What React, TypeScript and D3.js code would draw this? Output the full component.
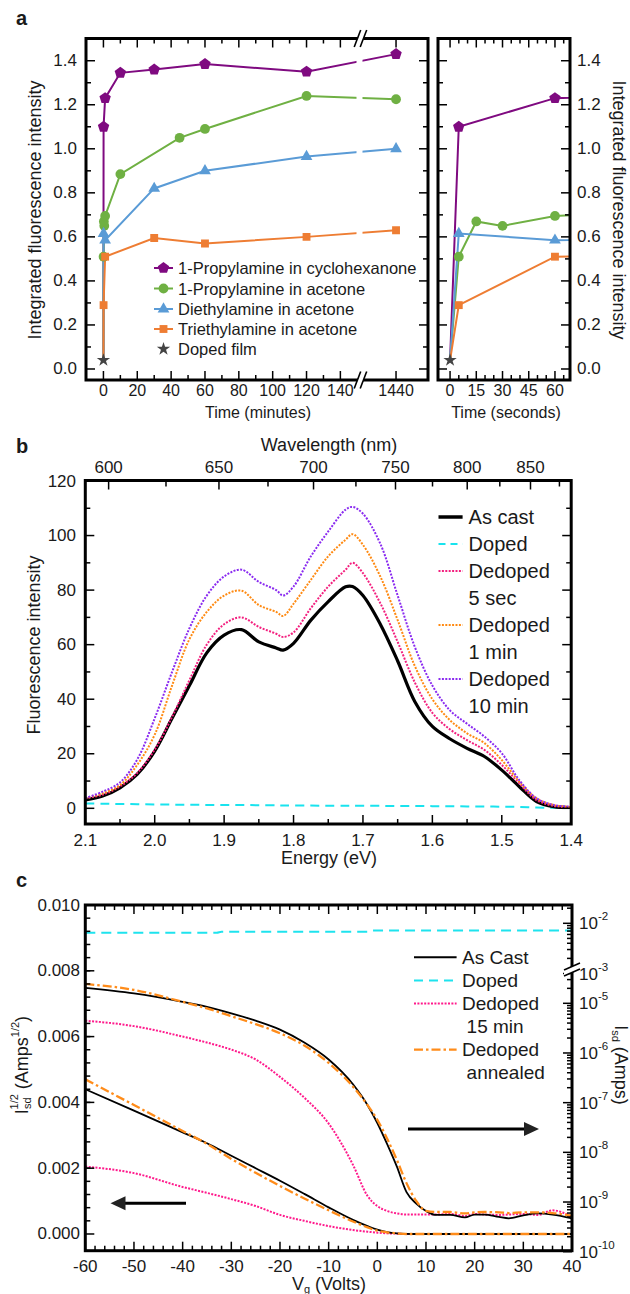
import { useEffect, useRef } from "react";
import * as d3 from "d3";

const FONT = "'Liberation Sans', Arial, Helvetica, sans-serif";

// ---------- panel a : integrated fluorescence vs. dedoping time ----------
const timeMinutes = [0, 0.083, 0.25, 0.5, 1, 10, 30, 45, 60, 120, 1440];
const propylCyclohexanone = [0.04, 1.1, null, null, 1.23, 1.345, 1.36, null, 1.385, 1.35, 1.43];
const propylAcetone = [0.04, 0.51, 0.67, 0.65, 0.695, 0.885, null, 1.05, 1.09, 1.24, 1.225];
const diethylAcetone = [0.04, 0.615, null, null, 0.585, null, 0.82, null, 0.9, 0.965, 1.0];
const triethylAcetone = [0.04, 0.29, null, null, 0.51, null, 0.595, null, 0.57, 0.6, 0.63];
const dopedFilm = 0.04;
const minuteTicks = [0, 20, 40, 60, 80, 100, 120, 140];
const secondTicks = [0, 15, 30, 45, 60];
const intensityTicks = [0, 0.2, 0.4, 0.6, 0.8, 1.0, 1.2, 1.4];

// ---------- panel b : fluorescence spectra ----------
const energyEv = [2.1, 2.075, 2.05, 2.025, 2.0, 1.975, 1.95, 1.925, 1.9, 1.875, 1.85, 1.825, 1.815, 1.8, 1.775, 1.75, 1.725, 1.715, 1.7, 1.675, 1.65, 1.625, 1.6, 1.575, 1.55, 1.525, 1.5, 1.475, 1.45, 1.425, 1.4];
const specAsCast = [3.1, 4.5, 7.5, 12.5, 21, 33, 45, 57, 63.5, 65.5, 61, 58.8, 58, 60.5, 69, 75.8, 81.2, 81.3, 78, 67.5, 54, 39, 30, 25.5, 22, 19, 14, 8, 2.5, 0.6, 0.3];
const specDoped = [1.8, 1.7, 1.6, 1.5, 1.4, 1.35, 1.3, 1.25, 1.2, 1.2, 1.15, 1.1, 1.05, 1.0, 1.0, 0.95, 0.95, 0.95, 0.9, 0.9, 0.85, 0.85, 0.8, 0.75, 0.7, 0.65, 0.6, 0.5, 0.3, 0.2, 0.2];
const specDedoped5s = [3.7, 5, 8, 13, 21.5, 33.5, 47, 60, 67.5, 70, 66.5, 64, 62.8, 64.5, 73.4, 81.3, 87.5, 90, 86.2, 75.2, 61, 46, 35, 29, 25, 21.4, 15.9, 9.2, 3, 0.9, 0.5];
const specDedoped1m = [3.7, 5.5, 8.5, 16, 27, 45, 62, 72, 78, 79.8, 74.5, 72, 70.5, 75, 83.8, 92.4, 98.5, 100.5, 96.6, 85, 69, 52, 40, 32.4, 27.5, 23.9, 17.7, 9.8, 3.7, 1.2, 0.5];
const specDedoped10m = [3.7, 6.1, 9.5, 18, 33, 50, 66, 78, 85, 87.5, 83, 80, 78, 81.3, 92.4, 101.5, 109.5, 110.5, 108, 97, 78, 59, 45, 36, 31, 26.3, 20.2, 10.4, 3.7, 1.2, 0.6];
const energyTicks = [2.1, 2.0, 1.9, 1.8, 1.7, 1.6, 1.5, 1.4];
const wavelengthTicks = [600, 650, 700, 750, 800, 850];
const fluorTicks = [0, 20, 40, 60, 80, 100, 120];

// ---------- panel c : transistor curves ----------
const gateVolts = [-60, -50, -40, -35, -30, -25, -20, -15, -10, -5, -2, 0, 2, 4, 6, 8, 10, 12, 15, 18, 20, 22, 25, 27, 30, 33, 36, 40];
// log-axis (right) currents, Amps
const isdAsCast = [2.04e-5, 1.58e-5, 1.07e-5, 8.5e-6, 6.3e-6, 4.47e-6, 2.95e-6, 1.62e-6, 7.4e-7, 2.34e-7, 8.9e-8, 3.9e-8, 1.48e-8, 5.2e-9, 1.58e-9, 9.3e-10, 6.6e-10, 5.5e-10, 5.5e-10, 4.9e-10, 5.6e-10, 5.6e-10, 5.0e-10, 4.7e-10, 5.4e-10, 5.9e-10, 5.6e-10, 4.7e-10];
const isdAnnealed = [2.45e-5, 1.86e-5, 1.07e-5, 7.9e-6, 5.5e-6, 3.8e-6, 2.5e-6, 1.41e-6, 6.3e-7, 2.1e-7, 8.9e-8, 4.5e-8, 1.9e-8, 7.1e-9, 2.4e-9, 1.05e-9, 6.6e-10, 6.3e-10, 6.3e-10, 5.9e-10, 6.2e-10, 6.3e-10, 6.2e-10, 6.0e-10, 6.2e-10, 6.2e-10, 6.0e-10, 5.25e-10];
const isdDedoped15 = [4.47e-6, 3.47e-6, 2.14e-6, 1.62e-6, 1.17e-6, 7.4e-7, 3.3e-7, 1.26e-7, 3.8e-8, 5.6e-9, 1.32e-9, 8.3e-10, 6.6e-10, 5.9e-10, 5.6e-10, 5.6e-10, 5.6e-10, 5.6e-10, 5.75e-10, 5.25e-10, 5.75e-10, 5.6e-10, 5.5e-10, 5.6e-10, 5.75e-10, 5.5e-10, 6.8e-10, 5.0e-10];
// sqrt-axis (left) values, Amps^1/2
const sqrtAsCast = [0.0044, 0.00375, 0.00309, 0.00276, 0.00238, 0.002, 0.00162, 0.00122, 0.00081, 0.00043, 0.00024, 0.00013, 0.00006, 0.00002, 0.000005, 0, 0, 0, 0, 0, 0, 0, 0, 0, 0, 0, 0, 0];
const sqrtAnnealed = [0.0047, 0.00392, 0.00313, 0.00274, 0.00228, 0.00186, 0.00146, 0.00108, 0.00072, 0.00038, 0.0002, 0.0001, 0.00005, 0.00002, 0, 0, 0, 0, 0, 0, 0, 0, 0, 0, 0, 0, 0, 0];
const sqrtDedoped15 = [0.00205, 0.00185, 0.00143, 0.00125, 0.00106, 0.00085, 0.00058, 0.0004, 0.00024, 0.00012, 0.00007, 0.00004, 0.00002, 0.00001, 0, 0, 0, 0, 0, 0, 0, 0, 0, 0, 0, 0, 0, 0];
const dopedVolts = [-60, -33, -32, -2, -1, 40];
const isdDoped = [6.5e-3, 6.5e-3, 6.8e-3, 6.8e-3, 7.2e-3, 7.2e-3];
const voltTicks = [-60, -50, -40, -30, -20, -10, 0, 10, 20, 30, 40];
const sqrtTicks = [0, 0.002, 0.004, 0.006, 0.008, 0.01];
const logTicksLo = [-10, -9, -8, -7, -6, -5];
const logTicksHi = [-3, -2];

type G = d3.Selection<SVGGElement, unknown, null, undefined>;

function seg(g: G, x1: number, y1: number, x2: number, y2: number, w = 1.5) {
  g.append("line").attr("x1", x1).attr("y1", y1).attr("x2", x2).attr("y2", y2)
    .attr("stroke", "#000").attr("stroke-width", w);
}

function label(g: G, x: number, y: number, s: string, size: number, anchor = "middle") {
  return g.append("text").attr("x", x).attr("y", y).attr("font-size", size)
    .attr("text-anchor", anchor).attr("dominant-baseline", "central")
    .attr("font-family", FONT).attr("fill", "#1a1a1a").text(s);
}

function frame(g: G, x0: number, y0: number, x1: number, y1: number) {
  g.append("rect").attr("x", x0).attr("y", y0).attr("width", x1 - x0).attr("height", y1 - y0)
    .attr("fill", "none").attr("stroke", "#000").attr("stroke-width", 3);
}

function xTicks(g: G, xs: number[], yTop: number | null, yBot: number | null, len: number) {
  xs.forEach((x) => {
    if (yTop !== null) seg(g, x, yTop, x, yTop + len);
    if (yBot !== null) seg(g, x, yBot, x, yBot - len);
  });
}

function yTicks(g: G, ys: number[], xL: number | null, xR: number | null, len: number) {
  ys.forEach((y) => {
    if (xL !== null) seg(g, xL, y, xL + len, y);
    if (xR !== null) seg(g, xR, y, xR - len, y);
  });
}

function breakMark(g: G, cx: number, cy: number, horizontal: boolean) {
  // two parallel slashes with white between them
  if (!horizontal) {
    g.append("polygon").attr("points", `${cx - 7},${cy + 8} ${cx - 1},${cy - 8} ${cx + 5},${cy - 8} ${cx - 1},${cy + 8}`).attr("fill", "#fff");
    seg(g, cx - 7.5, cy + 8.5, cx - 1, cy - 8.5, 1.6);
    seg(g, cx - 1.5, cy + 8.5, cx + 5, cy - 8.5, 1.6);
  } else {
    g.append("polygon").attr("points", `${cx - 8},${cy + 1} ${cx + 8},${cy - 6} ${cx + 8},${cy} ${cx - 8},${cy + 7}`).attr("fill", "#fff");
    seg(g, cx - 8, cy + 1, cx + 8, cy - 6, 1.6);
    seg(g, cx - 8, cy + 7, cx + 8, cy, 1.6);
  }
}

function pentagonPath(r: number) {
  const pts = d3.range(5).map((i) => {
    const a = -Math.PI / 2 + (i * 2 * Math.PI) / 5;
    return [r * Math.cos(a), r * Math.sin(a)];
  });
  return "M" + pts.map((p) => p.join(",")).join("L") + "Z";
}

function markerPath(shape: string) {
  if (shape === "pentagon") return pentagonPath(6);
  if (shape === "circle") return d3.symbol().type(d3.symbolCircle).size(75)()!;
  if (shape === "triangle") return d3.symbol().type(d3.symbolTriangle).size(60)()!;
  if (shape === "square") return d3.symbol().type(d3.symbolSquare).size(62)()!;
  return d3.symbol().type(d3.symbolStar).size(55)()!;
}

function supText(g: G, x: number, y: number, base: string, sup: string, size: number) {
  const t = g.append("text").attr("x", x).attr("y", y).attr("font-size", size)
    .attr("dominant-baseline", "central").attr("font-family", FONT).attr("fill", "#1a1a1a");
  t.append("tspan").text(base);
  t.append("tspan").attr("font-size", size * 0.68).attr("dy", -7).text(sup);
}

export default function App() {
  const svgRef = useRef<SVGSVGElement>(null);

  useEffect(() => {
    const svg = d3.select(svgRef.current);
    svg.selectAll("*").remove();
    const root = svg.append("g") as unknown as G;
    const defs = svg.append("defs");
    const clip = (id: string, x0: number, y0: number, x1: number, y1: number) => {
      defs.append("clipPath").attr("id", id).append("rect")
        .attr("x", x0).attr("y", y0).attr("width", x1 - x0).attr("height", y1 - y0);
    };

    // ================= panel a =================
    const a = root.append("g") as G;
    const xMin = d3.scaleLinear().domain([-10.3, 152.6, 1419.7, 1458.9]).range([86, 361.7, 361.7, 428]);
    const xSec = d3.scaleLinear().domain([-6.9, 68.6]).range([438, 570]);
    const yInt = d3.scaleLinear().domain([-0.05, 1.5]).range([380, 38.7]);
    clip("clipA1", 86, 38.5, 428, 380);
    clip("clipA2", 438, 38.5, 570, 380);

    const seriesA = [
      { name: "1-Propylamine in cyclohexanone", values: propylCyclohexanone, color: "#7f0a80", shape: "pentagon" },
      { name: "1-Propylamine in acetone", values: propylAcetone, color: "#6fb043", shape: "circle" },
      { name: "Diethylamine in acetone", values: diethylAcetone, color: "#5a9bd6", shape: "triangle" },
      { name: "Triethylamine in acetone", values: triethylAcetone, color: "#ee7d33", shape: "square" },
    ];

    const panels = [
      { clipId: "clipA1", fx: (t: number) => xMin(t) },
      { clipId: "clipA2", fx: (t: number) => xSec(t * 60) },
    ];

    panels.forEach((p) => {
      const g = a.append("g").attr("clip-path", `url(#${p.clipId})`) as G;
      seriesA.forEach((s) => {
        const pts = timeMinutes.map((t, i) => [t, s.values[i]] as [number, number | null])
          .filter((d) => d[1] !== null) as [number, number][];
        const ln = d3.line<[number, number]>().x((d) => p.fx(d[0])).y((d) => yInt(d[1]));
        g.append("path").attr("d", ln(pts)).attr("fill", "none").attr("stroke", s.color).attr("stroke-width", 2);
      });
      seriesA.forEach((s) => {
        const pts = timeMinutes.map((t, i) => [t, s.values[i]] as [number, number | null])
          .filter((d, i) => d[1] !== null && i > 0) as [number, number][];
        g.selectAll(null).data(pts).join("path")
          .attr("d", markerPath(s.shape))
          .attr("transform", (d) => `translate(${p.fx(d[0])},${yInt(d[1])})`)
          .attr("fill", s.color);
      });
      g.append("path").attr("d", markerPath("star"))
        .attr("transform", `translate(${p.fx(0)},${yInt(dopedFilm)})`).attr("fill", "#444");
    });

    // gap in the lines at the axis break
    a.append("rect").attr("x", 356.5).attr("y", 40).attr("width", 6).attr("height", 338).attr("fill", "#fff");

    frame(a, 86, 38.5, 428, 380);
    frame(a, 438, 38.5, 570, 380);

    const minorMin = d3.range(10, 150, 20);
    xTicks(a, [...minuteTicks, 1440].map((t) => xMin(t)), 38.5, 380, 9);
    xTicks(a, minorMin.map((t) => xMin(t)), 38.5, 380, 5);
    xTicks(a, secondTicks.map((t) => xSec(t)), 38.5, 380, 9);
    xTicks(a, d3.range(5, 70, 5).filter((t) => t % 15 !== 0).map((t) => xSec(t)), 38.5, 380, 5);
    const minorInt = d3.range(0.1, 1.5, 0.2);
    [[86, 428], [438, 570]].forEach(([l, r]) => {
      yTicks(a, intensityTicks.map((v) => yInt(v)), l, r, 9);
      yTicks(a, minorInt.map((v) => yInt(v)), l, r, 5);
    });
    breakMark(a, 361.7, 38.5, false);
    breakMark(a, 361.7, 380, false);

    intensityTicks.forEach((v) => {
      label(a, 77, yInt(v), v.toFixed(1), 17, "end");
      label(a, 577, yInt(v), v.toFixed(1), 17, "start");
    });
    [...minuteTicks, 1440].forEach((t) => label(a, xMin(t), 390, String(t), 16));
    secondTicks.forEach((t) => label(a, xSec(t), 390, String(t), 16));
    label(a, 258, 412, "Time (minutes)", 16);
    label(a, 506, 412, "Time (seconds)", 16);
    label(a, 0, 0, "Integrated fluorescence intensity", 18).attr("transform", "translate(35,210) rotate(-90)").attr("x", 0).attr("y", 0);
    label(a, 0, 0, "Integrated fluorescence intensity", 18).attr("transform", "translate(619,210) rotate(90)");
    label(a, 16, 18, "a", 20, "start").attr("font-weight", "bold");

    // legend a
    const legY = [268, 288.5, 309, 329, 349];
    seriesA.forEach((s, i) => {
      a.append("line").attr("x1", 154).attr("x2", 173).attr("y1", legY[i]).attr("y2", legY[i])
        .attr("stroke", s.color).attr("stroke-width", 2);
      a.append("path").attr("d", markerPath(s.shape)).attr("transform", `translate(163.5,${legY[i]})`).attr("fill", s.color);
      label(a, 178, legY[i], s.name, 16.5, "start");
    });
    a.append("path").attr("d", markerPath("star")).attr("transform", `translate(163.5,${legY[4]})`).attr("fill", "#444");
    label(a, 178, legY[4], "Doped film", 16.5, "start");

    // ================= panel b =================
    const b = root.append("g") as G;
    const xEv = d3.scaleLinear().domain([2.1, 1.4]).range([85.3, 571.2]);
    const yFl = d3.scaleLinear().domain([-5.75, 120]).range([824, 481]);
    clip("clipB", 85.3, 480.5, 571.2, 824);

    const seriesB = [
      { values: specDoped, color: "#19e3ee", width: 2, dash: "9,6" },
      { values: specAsCast, color: "#000", width: 3.2, dash: null },
      { values: specDedoped5s, color: "#f3207f", width: 2, dash: "2,1.4" },
      { values: specDedoped1m, color: "#ff8a12", width: 2, dash: "2,1.4" },
      { values: specDedoped10m, color: "#8a2bf0", width: 2, dash: "2,1.4" },
    ];
    const gb = b.append("g").attr("clip-path", "url(#clipB)") as G;
    seriesB.forEach((s) => {
      const ln = d3.line<number>().x((_, i) => xEv(energyEv[i])).y((d) => yFl(d)).curve(d3.curveCatmullRom.alpha(0.5));
      gb.append("path").attr("d", ln(s.values)).attr("fill", "none").attr("stroke", s.color)
        .attr("stroke-width", s.width).attr("stroke-dasharray", s.dash);
    });

    frame(b, 85.3, 480.5, 571.2, 824);
    xTicks(b, energyTicks.map((e) => xEv(e)), null, 824, 9);
    xTicks(b, d3.range(2.05, 1.4, -0.1).map((e) => xEv(e)), null, 824, 5);
    const nmToEv = (nm: number) => 1239.84 / nm;
    xTicks(b, wavelengthTicks.map((w) => xEv(nmToEv(w))), 480.5, null, 9);
    xTicks(b, d3.range(625, 900, 50).map((w) => xEv(nmToEv(w))), 480.5, null, 6);
    yTicks(b, fluorTicks.map((v) => yFl(v)), 85.3, 571.2, 9);
    yTicks(b, d3.range(10, 120, 20).map((v) => yFl(v)), 85.3, 571.2, 5);

    fluorTicks.forEach((v) => label(b, 76, yFl(v), String(v), 17, "end"));
    energyTicks.forEach((e) => label(b, xEv(e), 840, e.toFixed(1), 17));
    wavelengthTicks.forEach((w) => label(b, xEv(nmToEv(w)), 467, String(w), 17));
    label(b, 329, 445, "Wavelength (nm)", 18);
    label(b, 329, 858, "Energy (eV)", 18);
    label(b, 0, 0, "Fluorescence intensity", 18).attr("transform", "translate(34,645) rotate(-90)");
    label(b, 16, 446, "b", 20, "start").attr("font-weight", "bold");

    const legB = [
      { text: "As cast", color: "#000", width: 3.5, dash: null },
      { text: "Doped", color: "#19e3ee", width: 2, dash: "7,5" },
      { text: "Dedoped", color: "#f3207f", width: 2, dash: "2,1.4" },
      { text: "5 sec", color: null, width: 0, dash: null },
      { text: "Dedoped", color: "#ff8a12", width: 2, dash: "2,1.4" },
      { text: "1 min", color: null, width: 0, dash: null },
      { text: "Dedoped", color: "#8a2bf0", width: 2, dash: "2,1.4" },
      { text: "10 min", color: null, width: 0, dash: null },
    ];
    legB.forEach((l, i) => {
      const y = 517 + i * 27;
      if (l.color) {
        b.append("line").attr("x1", 438.5).attr("x2", 462.6).attr("y1", y).attr("y2", y)
          .attr("stroke", l.color).attr("stroke-width", l.width).attr("stroke-dasharray", l.dash);
      }
      label(b, 468.6, y, l.text, 20, "start");
    });

    // ================= panel c =================
    const c = root.append("g") as G;
    const xVg = d3.scaleLinear().domain([-60, 40]).range([85.3, 572]);
    const ySqrt = d3.scaleLinear().domain([-0.000508, 0.01]).range([1250.7, 905]);
    const yLogHi = d3.scaleLog().domain([1e-3, 1e-2]).range([973.5, 923.3]);
    const yLogLo = d3.scaleLog().domain([1e-10, 1e-5]).range([1251.7, 1003.3]);
    clip("clipC", 85.3, 905, 572, 1250.7);

    const gc = c.append("g").attr("clip-path", "url(#clipC)") as G;
    const curve = d3.curveMonotoneX;
    const drawC = (vals: number[], xs: number[], fy: (v: number) => number, color: string, width: number, dash: string | null) => {
      const ln = d3.line<number>().x((_, i) => xVg(xs[i])).y((d) => fy(d)).curve(curve);
      gc.append("path").attr("d", ln(vals)).attr("fill", "none").attr("stroke", color)
        .attr("stroke-width", width).attr("stroke-dasharray", dash);
    };
    const pink = "#ff1a8c";
    const orange = "#ff8c1a";
    const cyan = "#1ee3ee";
    drawC(isdDoped, dopedVolts, (v) => yLogHi(v), cyan, 2, "10,6");
    drawC(sqrtDedoped15, gateVolts, (v) => ySqrt(v), pink, 2, "2,1.4");
    drawC(isdDedoped15, gateVolts, (v) => yLogLo(v), pink, 2, "2,1.4");
    drawC(sqrtAsCast, gateVolts, (v) => ySqrt(v), "#000", 1.8, null);
    drawC(isdAsCast, gateVolts, (v) => yLogLo(v), "#000", 1.8, null);
    drawC(sqrtAnnealed, gateVolts, (v) => ySqrt(v), orange, 2.3, "9,3,2.5,3");
    drawC(isdAnnealed, gateVolts, (v) => yLogLo(v), orange, 2.3, "9,3,2.5,3");

    frame(c, 85.3, 905, 572, 1250.7);
    xTicks(c, voltTicks.map((v) => xVg(v)), 905, 1250.7, 9);
    xTicks(c, d3.range(-58, 40, 2).filter((v) => v % 10 !== 0).map((v) => xVg(v)), 905, 1250.7, 5);
    yTicks(c, sqrtTicks.map((v) => ySqrt(v)), 85.3, null, 9);
    yTicks(c, d3.range(0.0004, 0.01, 0.0004).map((v) => ySqrt(v)), 85.3, null, 5);
    // right log axis with break
    yTicks(c, logTicksLo.map((e) => yLogLo(10 ** e)), null, 572, 9);
    const minorLo: number[] = [];
    logTicksLo.forEach((e) => d3.range(2, 10).forEach((m) => {
      const y = yLogLo(m * 10 ** e);
      if (y > 978) minorLo.push(y);
    }));
    yTicks(c, minorLo, null, 572, 5);
    yTicks(c, logTicksHi.map((e) => yLogHi(10 ** e)), null, 572, 9);
    const minorHi: number[] = [];
    logTicksHi.forEach((e) => d3.range(2, 10).forEach((m) => {
      const y = yLogHi(m * 10 ** e);
      if (y > 906) minorHi.push(y);
    }));
    yTicks(c, minorHi, null, 572, 5);
    breakMark(c, 572, 969, true);

    sqrtTicks.forEach((v) => label(c, 80, ySqrt(v), v.toFixed(3), 17, "end"));
    voltTicks.forEach((v) => label(c, xVg(v), 1266, String(v), 17));
    logTicksLo.forEach((e) => supText(c, 579, yLogLo(10 ** e), "10", String(e), 17));
    logTicksHi.forEach((e) => supText(c, 579, yLogHi(10 ** e), "10", String(e), 17));

    // axis titles
    const vt = c.append("text").attr("x", 329).attr("y", 1284).attr("text-anchor", "middle")
      .attr("dominant-baseline", "central").attr("font-size", 18).attr("font-family", FONT).attr("fill", "#1a1a1a");
    vt.append("tspan").text("V");
    vt.append("tspan").attr("font-size", 11).attr("dy", 5).text("g");
    vt.append("tspan").attr("dy", -5).text(" (Volts)");

    const lt = c.append("text").attr("transform", "translate(22,1065) rotate(-90)").attr("text-anchor", "middle")
      .attr("dominant-baseline", "central").attr("font-size", 18).attr("font-family", FONT).attr("fill", "#1a1a1a");
    lt.append("tspan").text("I");
    lt.append("tspan").attr("font-size", 11).attr("dy", 5).text("sd");
    lt.append("tspan").attr("font-size", 11).attr("dx", -12).attr("dy", -13).text("1/2");
    lt.append("tspan").attr("dy", 8).text(" (Amps");
    lt.append("tspan").attr("font-size", 11).attr("dy", -7).text("1/2");
    lt.append("tspan").attr("dy", 7).text(")");

    const rt = c.append("text").attr("transform", "translate(621,1065) rotate(90)").attr("text-anchor", "middle")
      .attr("dominant-baseline", "central").attr("font-size", 18).attr("font-family", FONT).attr("fill", "#1a1a1a");
    rt.append("tspan").text("I");
    rt.append("tspan").attr("font-size", 11).attr("dy", 5).text("sd");
    rt.append("tspan").attr("dy", -5).text(" (Amps)");

    label(c, 16, 880, "c", 20, "start").attr("font-weight", "bold");

    // arrows
    seg(c, 408, 1129, 526, 1129, 3);
    c.append("polygon").attr("points", "539,1129 524,1122 524,1136").attr("fill", "#222");
    seg(c, 186, 1203.3, 123, 1203.3, 3);
    c.append("polygon").attr("points", "110.5,1203.3 125.5,1196.3 125.5,1210.3").attr("fill", "#222");

    const legC = [
      { text: "As Cast", color: "#000", width: 2, dash: null, x: 462 },
      { text: "Doped", color: cyan, width: 2, dash: "9,6", x: 462 },
      { text: "Dedoped", color: pink, width: 2, dash: "2,1.4", x: 462 },
      { text: "15 min", color: null, width: 0, dash: null, x: 466.6 },
      { text: "Dedoped", color: orange, width: 2.3, dash: "9,3,2.5,3", x: 462 },
      { text: "annealed", color: null, width: 0, dash: null, x: 466.6 },
    ];
    legC.forEach((l, i) => {
      const y = 957.3 + i * 23.1;
      if (l.color) {
        c.append("line").attr("x1", 414).attr("x2", 456.6).attr("y1", y).attr("y2", y)
          .attr("stroke", l.color).attr("stroke-width", l.width).attr("stroke-dasharray", l.dash);
      }
      label(c, l.x, y, l.text, 19, "start");
    });
  }, []);

  return (
    <svg
      ref={svgRef}
      width={630}
      height={1294}
      style={{ position: "absolute", left: 0, top: 0, background: "#fff" }}
    />
  );
}
